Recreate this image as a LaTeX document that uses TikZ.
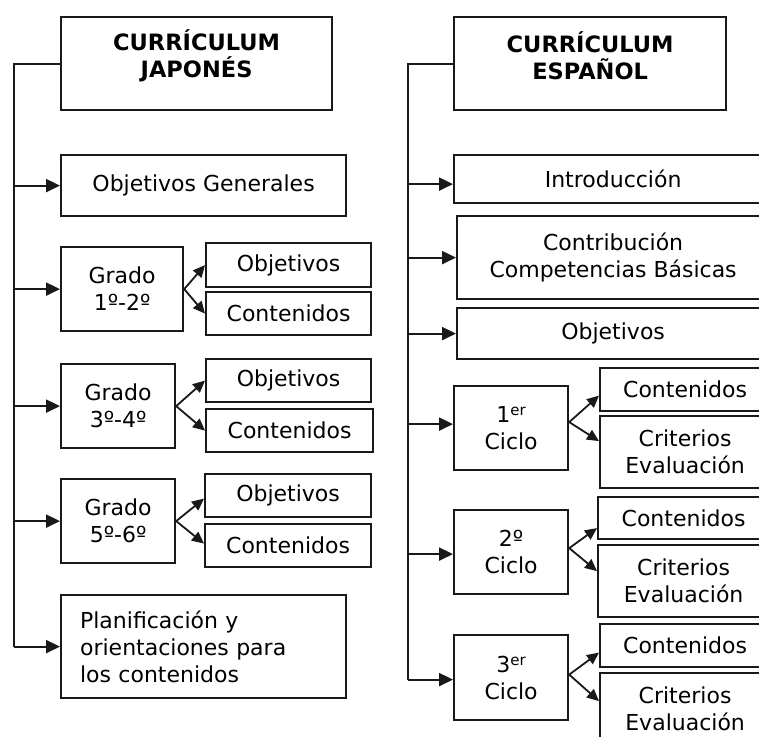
\documentclass[tikz,border=0pt]{standalone}
\usepackage{fontspec}
\setmainfont{DejaVu Sans}
\usetikzlibrary{arrows.meta,calc}
\newcommand{\supr}[1]{\raisebox{0.55ex}{\fontsize{15}{15}\selectfont #1}}
\tikzset{
  box/.style={draw=black!90, line width=2.2pt, inner sep=0pt, anchor=north west, align=center,
    font=\fontsize{22}{27}\selectfont},
  ttl/.style={inner sep=0pt, align=center, font=\fontsize{22.5}{27}\selectfont\bfseries},
  conn/.style={line width=2.2pt, black!90},
  arr/.style={conn, -{Triangle[length=14pt,width=13pt]}},
  farr/.style={line width=1.8pt, black!90, -{Triangle[length=12pt,width=11pt]}}
}
\begin{document}
\begin{tikzpicture}[x=1pt,y=-1pt]
\useasboundingbox (0,0) rectangle (759,736);
\clip (0,0) rectangle (759,736);
% ---------- left ----------
\node[box, minimum width=271pt, minimum height=93pt] (t1) at (60,16) {};
\node[ttl] (t1t) at ($(t1.north)+(0,40)$) {CURRÍCULUM\\JAPONÉS};
\node[box, minimum width=285pt, minimum height=61pt] (og) at (60,154) {Objetivos Generales};
\node[box, minimum width=122pt, minimum height=84pt] (g1) at (60,246) {Grado\\1º-2º};
\node[box, minimum width=165pt, minimum height=44pt] (o1) at (205,242) {Objetivos};
\node[box, minimum width=165pt, minimum height=43pt] (c1) at (205,291) {Contenidos};
\node[box, minimum width=114pt, minimum height=84pt] (g2) at (60,363) {Grado\\3º-4º};
\node[box, minimum width=165pt, minimum height=43pt] (o2) at (205,358) {Objetivos};
\node[box, minimum width=167pt, minimum height=43pt] (c2) at (205,408) {Contenidos};
\node[box, minimum width=114pt, minimum height=84pt] (g3) at (60,478) {Grado\\5º-6º};
\node[box, minimum width=166pt, minimum height=43pt] (o3) at (204,473) {Objetivos};
\node[box, minimum width=166pt, minimum height=43pt] (c3) at (204,523) {Contenidos};
\node[box, text width=247pt, inner xsep=19pt, minimum height=103pt, align=left] (pl) at (60,594)
  {Planificación y\\orientaciones para\\los contenidos};
\coordinate (L) at (14,0);
\draw[conn] (t1.west) -| (L |- pl.west);
\foreach \n in {og,g1,g2,g3,pl} \draw[arr] (L |- \n.west) -- (\n.west);
\draw[farr] (g1.east) -- (o1.west);
\draw[farr] (g1.east) -- (c1.west);
\draw[farr] (g2.east) -- (o2.west);
\draw[farr] (g2.east) -- (c2.west);
\draw[farr] (g3.east) -- ($(o3.west)+(0,3)$);
\draw[farr] (g3.east) -- ($(c3.west)+(0,-2)$);
% ---------- right ----------
\node[box, minimum width=272pt, minimum height=93pt] (t2) at (453,16) {};
\node[ttl] (t2t) at ($(t2.north)+(0,40)$) {CURRÍCULUM\\ESPAÑOL};
\node[box, minimum width=318pt, minimum height=48pt] (in) at (453,154) {Introducción};
\node[box, minimum width=312pt, minimum height=83pt] (co) at (456,215) {Contribución\\Competencias Básicas};
\node[box, minimum width=312pt, minimum height=51pt] (ob) at (456,307) {Objetivos};
\node[box, minimum width=114pt, minimum height=84pt] (y1) at (453,385) {1\supr{er}\\Ciclo};
\node[box, minimum width=170pt, minimum height=43pt] (n1) at (599,367) {Contenidos};
\node[box, minimum width=170pt, minimum height=72pt] (r1) at (599,415) {Criterios\\Evaluación};
\node[box, minimum width=114pt, minimum height=84pt] (y2) at (453,509) {2º\\Ciclo};
\node[box, minimum width=171pt, minimum height=42pt] (n2) at (597,496) {Contenidos};
\node[box, minimum width=171pt, minimum height=72pt] (r2) at (597,544) {Criterios\\Evaluación};
\node[box, minimum width=114pt, minimum height=85pt] (y3) at (453,634) {3\supr{er}\\Ciclo};
\node[box, minimum width=170pt, minimum height=43pt] (n3) at (599,623) {Contenidos};
\node[box, minimum width=170pt, minimum height=72pt] (r3) at (599,672) {Criterios\\Evaluación};
\coordinate (R) at (408,0);
\draw[conn] (t2.west) -| ($(R |- y3.west)+(0,2)$);
\draw[arr] ($(R |- in.west)+(0,5)$) -- ($(in.west)+(0,5)$);
\draw[arr] (R |- co.west) -- (co.west);
\draw[arr] (R |- ob.west) -- (ob.west);
\draw[arr] ($(R |- y1.west)+(0,-4)$) -- ($(y1.west)+(0,-4)$);
\draw[arr] ($(R |- y2.west)+(0,2)$) -- ($(y2.west)+(0,2)$);
\draw[arr] ($(R |- y3.west)+(0,2)$) -- ($(y3.west)+(0,2)$);
\draw[farr] ($(y1.east)+(0,-6)$) -- ($(n1.west)+(0,6)$);
\draw[farr] ($(y1.east)+(0,-6)$) -- ($(r1.west)+(0,-11)$);
\draw[farr] ($(y2.east)+(0,-4)$) -- ($(n2.west)+(0,10)$);
\draw[farr] ($(y2.east)+(0,-4)$) -- ($(r2.west)+(0,-10)$);
\draw[farr] ($(y3.east)+(0,-3)$) -- ($(n3.west)+(0,7)$);
\draw[farr] ($(y3.east)+(0,-3)$) -- ($(r3.west)+(0,-8)$);
\end{tikzpicture}
\end{document}
